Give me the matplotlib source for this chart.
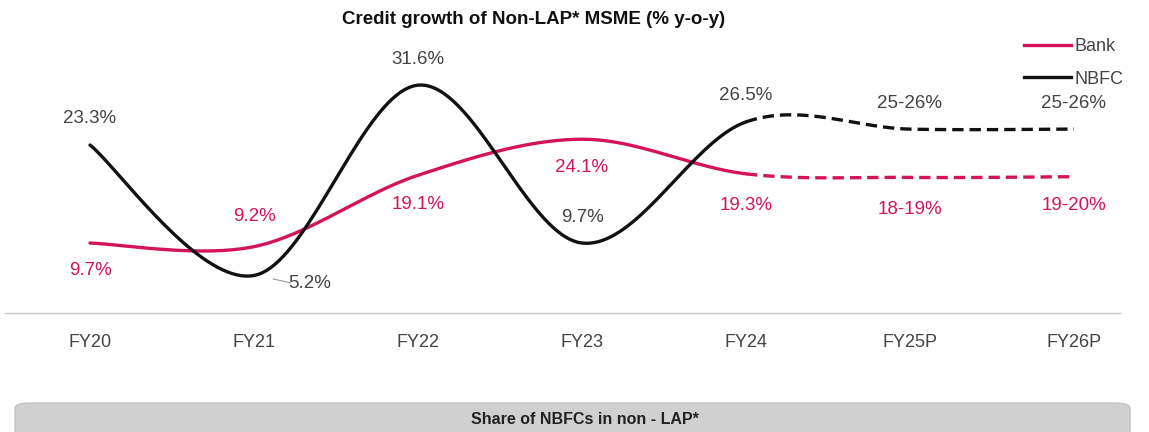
import numpy as np
import matplotlib.pyplot as plt
from matplotlib.lines import Line2D
from matplotlib.patches import FancyBboxPatch

years = ["FY20", "FY21", "FY22", "FY23", "FY24", "FY25P", "FY26P"]
bank = [9.7, 9.2, 19.1, 24.1, 19.3, 18.8, 18.9]
nbfc = [23.3, 5.2, 31.6, 9.7, 26.5, 25.5, 25.5]
bank_labels = ["9.7%", "9.2%", "19.1%", "24.1%", "19.3%", "18-19%", "19-20%"]
nbfc_labels = ["23.3%", "5.2%", "31.6%", "9.7%", "26.5%", "25-26%", "25-26%"]
n_actual = 5  # FY20..FY24 are actuals, rest projected

BANK_COLOR = "#d4145a"
NBFC_COLOR = "#111111"
TEXT_GRAY = "#444444"

plt.rcParams["font.family"] = ["Liberation Sans", "DejaVu Sans"]


def smooth(xs, ys, steps=40):
    # excel-like smoothed line: cubic bezier with catmull-rom style handles
    xs = np.asarray(xs, float)
    ys = np.asarray(ys, float)
    px = np.concatenate([[xs[0]], xs, [xs[-1]]])
    py = np.concatenate([[ys[0]], ys, [ys[-1]]])
    segs = []
    for i in range(len(xs) - 1):
        p0 = np.array([px[i], py[i]])
        p1 = np.array([px[i + 1], py[i + 1]])
        p2 = np.array([px[i + 2], py[i + 2]])
        p3 = np.array([px[i + 3], py[i + 3]])
        c1 = p1 + (p2 - p0) / 6
        c2 = p2 - (p3 - p1) / 6
        t = np.linspace(0, 1, steps)[:, None]
        pts = ((1 - t) ** 3) * p1 + 3 * ((1 - t) ** 2) * t * c1 + 3 * (1 - t) * t**2 * c2 + t**3 * p2
        segs.append(pts)
    return segs


fig = plt.figure(figsize=(11.49, 4.32), dpi=100)
ax = fig.add_axes([0, 1 - 313 / 432, 1, 313 / 432])
ax.set_xlim(-90 / 164, 1059 / 164)
ax.set_ylim(0, 31.6 + 85 / 7.2)

x = np.arange(len(years))
for vals, color in [(bank, BANK_COLOR), (nbfc, NBFC_COLOR)]:
    segs = smooth(x, vals)
    solid = np.vstack(segs[: n_actual - 1])
    dashed = np.vstack(segs[n_actual - 1 :])
    ax.plot(solid[:, 0], solid[:, 1], color=color, lw=2.4, solid_capstyle="round")
    ax.plot(dashed[:, 0], dashed[:, 1], color=color, lw=2.4, dashes=(3.4, 1.8))

# data labels
nbfc_off = [(0, 26), (56, -8), (0, 26), (0, 26), (0, 26), (0, 26), (0, 26)]
bank_off = [(0, -27), (0, 30), (0, -29), (0, -28), (0, -32), (0, -32), (0, -29)]
for i in range(len(years)):
    dx, dy = nbfc_off[i]
    ax.annotate(nbfc_labels[i], (x[i], nbfc[i]), xytext=(dx, dy), textcoords="offset pixels",
                ha="center", va="center", fontsize=13.5, color=TEXT_GRAY)
    dx, dy = bank_off[i]
    ax.annotate(bank_labels[i], (x[i], bank[i]), xytext=(dx, dy), textcoords="offset pixels",
                ha="center", va="center", fontsize=13.5, color=BANK_COLOR)
# leader line for the 5.2% label
ax.annotate("", xy=(1.1, 4.8), xytext=(1.24, 4.1),
            arrowprops=dict(arrowstyle="-", color="#999999", lw=0.8))

# axes cosmetics
for s in ["top", "left", "right"]:
    ax.spines[s].set_visible(False)
ax.spines["bottom"].set_color("#c8c8c8")
ax.spines["bottom"].set_linewidth(1.0)
ax.spines["bottom"].set_bounds(-85 / 164, 1030 / 164)
ax.set_yticks([])
ax.set_xticks(x)
ax.set_xticklabels(years, fontsize=13, color=TEXT_GRAY)
ax.tick_params(axis="x", length=0, pad=15)

fig.text(534 / 1149, 1 - 20 / 432, "Credit growth of Non-LAP* MSME (% y-o-y)", ha="center",
         va="center", fontsize=13.5, fontweight="bold", color="#111111")

handles = [Line2D([], [], color=BANK_COLOR, lw=2.4), Line2D([], [], color=NBFC_COLOR, lw=2.4)]
ax.legend(handles, ["Bank", "NBFC"], loc="upper left", bbox_to_anchor=(1008 / 1149, 0.93),
          frameon=False, fontsize=13, handlelength=2.6, handletextpad=0.2, labelspacing=0.85,
          labelcolor=TEXT_GRAY)

# bottom banner
banner = FancyBboxPatch((15 / 1149, -0.05), 1115 / 1149, 0.117, transform=fig.transFigure,
                        boxstyle="round,pad=0,rounding_size=0.012", facecolor="#d0d0d0",
                        edgecolor="#c4c4c4", lw=1, zorder=0)
fig.patches.append(banner)
fig.text(585 / 1149, 1 - 420 / 432, "Share of NBFCs in non - LAP*", ha="center", va="center",
         fontsize=11.5, fontweight="bold", color="#222222")

fig.savefig("out.png", dpi=100)
